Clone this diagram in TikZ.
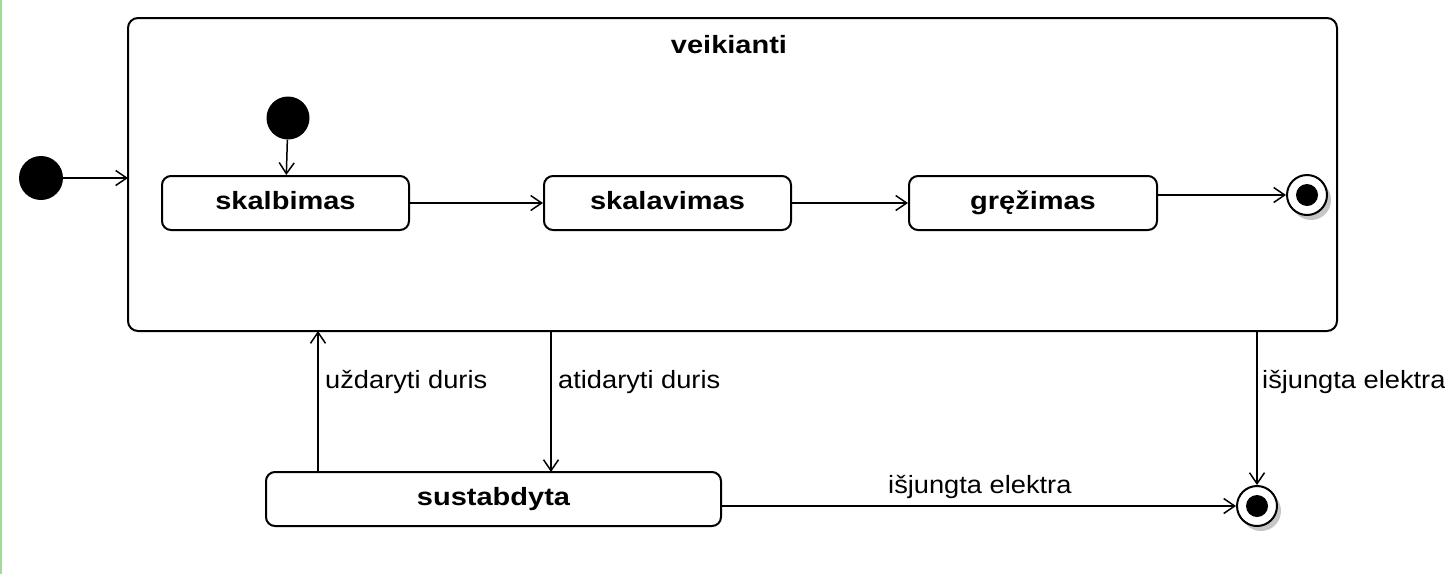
\documentclass[tikz,border=0pt]{standalone}
\usepackage{fontspec}
\setmainfont{Liberation Sans}
\newfontfamily\lblfont[FakeStretch=1.09]{Liberation Sans}
\newfontfamily\boldfont[FakeStretch=1.16]{Liberation Sans Bold}
\usetikzlibrary{arrows.meta}
\begin{document}
\begin{tikzpicture}[x=1pt,y=-1pt,
  statebox/.style={draw,line width=2pt,rounded corners=9pt,fill=white,inner sep=0pt,
     text height=17pt,text depth=5pt,
     font=\fontsize{25}{29}\boldfont},
  lbl/.style={font=\fontsize{25}{29}\lblfont,inner sep=0pt},
  tr/.style={line width=1.5pt,-{Straight Barb[length=11pt,width=15pt,line width=1.5pt]}},
  initst/.style={circle,fill=black,minimum size=44pt,inner sep=0pt},
  finst/.style={circle,draw,line width=2pt,fill=white,minimum size=40pt,inner sep=0pt}]
\useasboundingbox (0,0) rectangle (1445,574);
\fill[white] (0,0) rectangle (1445,574);
\draw[line width=2pt,color={rgb,255:red,160;green,220;blue,150}] (1,0) -- (1,574);
% composite
\draw[line width=2pt,rounded corners=10pt] (128,18) rectangle (1337,331);
\node[inner sep=0pt,font=\fontsize{25}{29}\boldfont] (title) at (729,45) {veikianti};
\coordinate (cl) at (128,178);
\coordinate (cb1) at (318,331);
\coordinate (cb2) at (551,331);
\coordinate (cb3) at (1257,331);
% states
\node[statebox,minimum width=247pt,minimum height=54pt] (s1) at (285.5,203) {skalbimas};
\node[statebox,minimum width=247pt,minimum height=54pt] (s2) at (667.5,203) {skalavimas};
\node[statebox,minimum width=248pt,minimum height=54pt] (s3) at (1033,203) {gręžimas};
\node[statebox,minimum width=455pt,minimum height=54pt] (s4) at (493.5,499) {sustabdyta};
% initial
\node[initst] (i0) at (41,178) {};
\node[initst,minimum size=43pt] (i1) at (288,118) {};
% final
\fill[gray!45] (1311,200) circle (20pt);
\node[finst] (f1) at (1307,195) {};
\fill (f1) circle (11pt);
\fill[gray!45] (1261,511) circle (20pt);
\node[finst] (f2) at (1257,506) {};
\fill (f2) circle (11pt);
% transitions
\draw[tr] (i0) -- (cl);
\draw[tr] (i1) -- (s1);
\draw[tr] (s1) -- (s2);
\draw[tr] (s2) -- (s3);
\draw[tr] (s3.east |- f1) -- (f1);
\coordinate (s4a) at (318,472);
\coordinate (s4b) at (551,472);
\draw[tr] (s4a) -- (cb1);
\draw[tr] (cb2) -- (s4b);
\draw[tr] (cb3) -- (f2);
\draw[tr] (s4.east |- f2) -- (f2);
% labels
\node[lbl,anchor=west] (l1) at (325,382) {uždaryti duris};
\node[lbl,anchor=west] (l2) at (558,382) {atidaryti duris};
\node[lbl,anchor=west] (l3) at (1262,382) {išjungta elektra};
\node[lbl,anchor=west] (l4) at (888,487) {išjungta elektra};
\end{tikzpicture}
\end{document}
